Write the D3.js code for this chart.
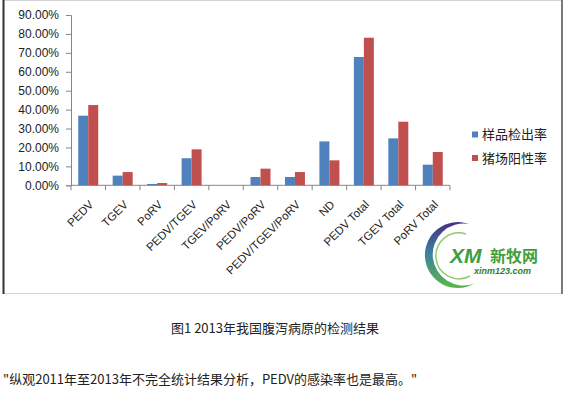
<!DOCTYPE html>
<html>
<head>
<meta charset="utf-8">
<script src="https://cdn.jsdelivr.net/npm/d3@7"></script>
<style>
  body { margin: 0; background: #fff; }
  svg { display: block; font-family: "Liberation Sans", Arial, sans-serif; }
  .cjk { font-family: "Noto Sans CJK SC", sans-serif; }
</style>
</head>
<body>
<script>
var categories = ['PEDV', 'TGEV', 'PoRV', 'PEDV/TGEV', 'TGEV/PoRV', 'PEDV/PoRV',
  'PEDV/TGEV/PoRV', 'ND', 'PEDV Total', 'TGEV Total', 'PoRV Total'];
var seriesNames = ['样品检出率', '猪场阳性率'];
var sampleRate = [0.368, 0.051, 0.007, 0.143, 0, 0.044, 0.044, 0.232, 0.678, 0.248, 0.109];
var farmRate = [0.424, 0.070, 0.012, 0.190, 0, 0.088, 0.070, 0.132, 0.780, 0.336, 0.176];
var yTicks = [0, 0.1, 0.2, 0.3, 0.4, 0.5, 0.6, 0.7, 0.8, 0.9];
var colors = ['#4f81bd', '#c0504d'];

var w = 566, h = 398;

var svg = d3.select('body').append('svg')
  .attr('width', w)
  .attr('height', h);

// chart frame
svg.append('rect')
  .attr('x', 3.5).attr('y', 0.5)
  .attr('width', 558).attr('height', 293)
  .attr('fill', '#fff')
  .attr('stroke', '#d4d4d4');
svg.append('line')
  .attr('x1', 3.5).attr('x2', 3.5).attr('y1', 0).attr('y2', 294)
  .attr('stroke', '#333').attr('stroke-width', 2);
svg.append('line')
  .attr('x1', 562).attr('x2', 562).attr('y1', 0).attr('y2', 294)
  .attr('stroke', '#7a7a7a').attr('stroke-width', 2);

var x0 = d3.scaleBand()
  .domain(categories)
  .range([71, 450])
  .paddingInner(0.42)
  .paddingOuter(0.21);

var x1 = d3.scaleBand()
  .domain([0, 1])
  .range([0, x0.bandwidth()]);

var y = d3.scaleLinear()
  .domain([0, 0.9])
  .range([185.3, 15]);

// y axis
var yAxis = svg.append('g')
  .attr('transform', 'translate(71,0)')
  .call(d3.axisLeft(y).tickValues(yTicks).tickFormat(d3.format('.2%')).tickSize(5).tickPadding(7));
yAxis.select('.domain').attr('stroke', '#868686');
yAxis.selectAll('.tick line').attr('stroke', '#868686');
yAxis.selectAll('.tick text')
  .attr('fill', '#222')
  .style('font-size', '12px');

// x axis with ticks on category boundaries
var xAxis = svg.append('g')
  .attr('transform', 'translate(0,' + y(0) + ')');
xAxis.append('line')
  .attr('x1', 71).attr('x2', 450)
  .attr('stroke', '#868686');
var step = x0.step();
xAxis.selectAll('.xtick')
  .data(d3.range(categories.length + 1))
  .enter().append('line')
    .attr('x1', function(i) { return 71 + i * step; })
    .attr('x2', function(i) { return 71 + i * step; })
    .attr('y1', 0).attr('y2', 5)
    .attr('stroke', '#868686');

xAxis.selectAll('.xlab')
  .data(categories)
  .enter().append('text')
    .attr('transform', function(d) {
      var cx = x0(d) + x0.bandwidth() / 2;
      return 'translate(' + (cx + 6) + ',20) rotate(-45)';
    })
    .attr('text-anchor', 'end')
    .attr('fill', '#222')
    .style('font-size', '11.5px')
    .text(function(d) { return d; });

// bars
var series = [sampleRate, farmRate];
series.forEach(function(vals, si) {
  svg.append('g').selectAll('rect')
    .data(vals)
    .enter().append('rect')
      .attr('x', function(d, i) { return x0(categories[i]) + x1(si); })
      .attr('y', function(d) { return y(d); })
      .attr('width', x1.bandwidth())
      .attr('height', function(d) { return y(0) - y(d); })
      .attr('fill', colors[si]);
});

// legend
var legend = svg.append('g');
seriesNames.forEach(function(name, i) {
  var ly = 134.5 + i * 23.5;
  legend.append('rect')
    .attr('x', 472).attr('y', ly - 3)
    .attr('width', 6).attr('height', 6)
    .attr('fill', colors[i]);
  legend.append('text')
    .attr('class', 'cjk')
    .attr('x', 482).attr('y', ly)
    .attr('dy', '0.36em')
    .attr('fill', '#222')
    .style('font-size', '13px')
    .text(name);
});

// watermark logo
var defs = svg.append('defs');
var grad = defs.append('linearGradient')
  .attr('id', 'swoosh')
  .attr('x1', 0).attr('y1', 0).attr('x2', 0).attr('y2', 1);
grad.append('stop').attr('offset', '0%').attr('stop-color', '#4b2d83');
grad.append('stop').attr('offset', '45%').attr('stop-color', '#3b7fa0');
grad.append('stop').attr('offset', '100%').attr('stop-color', '#57b947');

var logo = svg.append('g');
logo.append('path')
  .attr('d', 'M469,224 A33,33 0 1 0 474.5,283.6 A31,31 0 1 1 469,224 Z')
  .attr('fill', 'url(#swoosh)');
logo.append('path')
  .attr('d', 'M466,234 A23,23 0 1 0 470,276')
  .attr('fill', 'none')
  .attr('stroke', '#8ccf6a')
  .attr('stroke-width', 1.5);
logo.append('text')
  .attr('x', 450).attr('y', 263)
  .attr('fill', '#3f9f3c')
  .style('font-size', '21px')
  .style('font-weight', 'bold')
  .style('font-style', 'italic')
  .text('XM');
logo.append('text')
  .attr('class', 'cjk')
  .attr('x', 490).attr('y', 262)
  .attr('fill', '#3f9f3c')
  .style('font-size', '16px')
  .style('font-weight', 'bold')
  .text('新牧网');
logo.append('text')
  .attr('x', 474).attr('y', 274)
  .attr('fill', '#2f7f2c')
  .style('font-size', '9px')
  .style('font-weight', 'bold')
  .style('font-style', 'italic')
  .text('xinm123.com');

// caption and quote
svg.append('text')
  .attr('class', 'cjk')
  .attr('x', 275).attr('y', 333)
  .attr('text-anchor', 'middle')
  .attr('fill', '#222')
  .style('font-size', '13px')
  .text('图1 2013年我国腹泻病原的检测结果');

svg.append('text')
  .attr('class', 'cjk')
  .attr('x', 3).attr('y', 384)
  .attr('fill', '#222')
  .style('font-size', '13px')
  .text('"纵观2011年至2013年不完全统计结果分析，PEDV的感染率也是最高。"');
</script>
</body>
</html>
